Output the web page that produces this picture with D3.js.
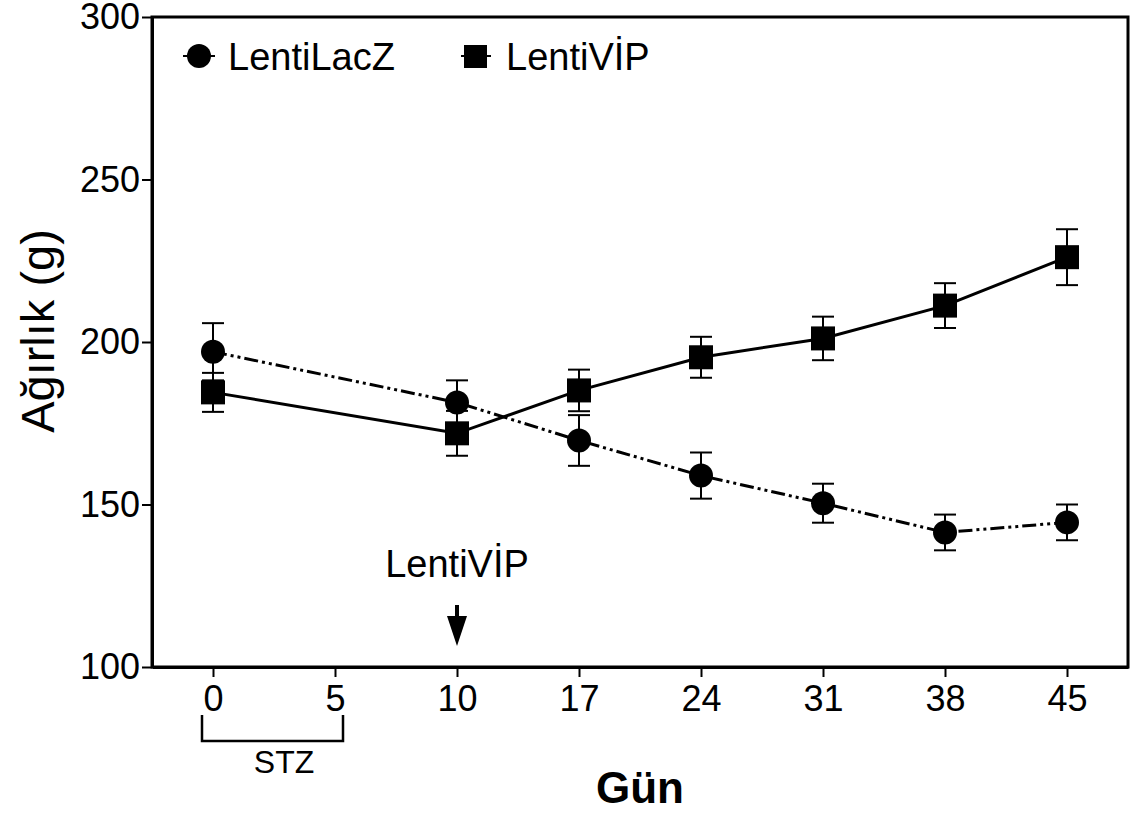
<!DOCTYPE html>
<html><head><meta charset="utf-8">
<script src="https://cdn.jsdelivr.net/npm/d3@7"></script>
<style>body{margin:0;background:#fff} text{font-family:"Liberation Sans",Arial,sans-serif;fill:#000}</style>
</head><body><svg id="c" width="1132" height="813"></svg>
<script>
const days = ["0","5","10","17","24","31","38","45"];
const seriesDays = ["0","10","17","24","31","38","45"];
const lacZMean = [197, 181.4, 169.7, 158.9, 150.4, 141.4, 144.5];
const lacZErr  = [8.8, 6.8, 7.8, 7.1, 6.0, 5.5, 5.5];
const vipMean  = [184.5, 171.9, 185.1, 195.3, 201.1, 211.2, 226.1];
const vipErr   = [6.0, 6.9, 6.4, 6.3, 6.7, 6.9, 8.6];
const yTicks   = [100, 150, 200, 250, 300];
const seriesNames = ["LentiLacZ", "LentiVİP"];

const svg = d3.select("#c");
const L = 152, R = 1128, T = 17, B = 667;
const x = d3.scalePoint().domain(days).range([L, R]).padding(0.5);
const y = d3.scaleLinear().domain([100, 300]).range([B, T]);

const lacZ = seriesDays.map((d,i)=>({d, m:lacZMean[i], e:lacZErr[i]}));
const vip  = seriesDays.map((d,i)=>({d, m:vipMean[i], e:vipErr[i]}));

// frame
svg.append("rect").attr("x",L).attr("y",T).attr("width",R-L).attr("height",B-T)
  .attr("fill","none").attr("stroke","#000").attr("stroke-width",3);

// y axis
const ya = svg.append("g").attr("transform",`translate(${L},0)`)
  .call(d3.axisLeft(y).tickValues(yTicks).tickSize(10).tickSizeOuter(0).tickPadding(2));
ya.select(".domain").attr("stroke-width",3);
ya.selectAll(".tick line").attr("stroke-width",2);
ya.selectAll(".tick text").attr("font-size",36).style("font-family","Liberation Sans, Arial, sans-serif");

// x axis
const xa = svg.append("g").attr("transform",`translate(0,${B})`)
  .call(d3.axisBottom(x).tickSize(10).tickSizeOuter(0).tickPadding(8));
xa.select(".domain").attr("stroke-width",3);
xa.selectAll(".tick line").attr("stroke-width",2);
xa.selectAll(".tick text").attr("font-size",36).style("font-family","Liberation Sans, Arial, sans-serif");

// lines
const line = d3.line().x(p=>x(p.d)).y(p=>y(p.m));
svg.append("path").datum(lacZ).attr("d",line).attr("fill","none").attr("stroke","#000")
  .attr("stroke-width",3).attr("stroke-dasharray","14,4,3,4,3,4");
svg.append("path").datum(vip).attr("d",line).attr("fill","none").attr("stroke","#000")
  .attr("stroke-width",3);

// error bars
function errBars(data){
  const g = svg.append("g").attr("stroke","#000").attr("stroke-width",2);
  data.forEach(p=>{
    const cx = x(p.d), y1 = y(p.m+p.e), y2 = y(p.m-p.e);
    g.append("line").attr("x1",cx).attr("x2",cx).attr("y1",y1).attr("y2",y2);
    g.append("line").attr("x1",cx-11).attr("x2",cx+11).attr("y1",y1).attr("y2",y1);
    g.append("line").attr("x1",cx-11).attr("x2",cx+11).attr("y1",y2).attr("y2",y2);
  });
}
errBars(lacZ); errBars(vip);

// markers
svg.append("g").selectAll("circle").data(lacZ).join("circle")
  .attr("cx",p=>x(p.d)).attr("cy",p=>y(p.m)).attr("r",12).attr("fill","#000");
svg.append("g").selectAll("rect").data(vip).join("rect")
  .attr("x",p=>x(p.d)-12).attr("y",p=>y(p.m)-12).attr("width",24).attr("height",24).attr("fill","#000");

// legend
const lg = svg.append("g");
lg.append("line").attr("x1",183).attr("x2",215).attr("y1",56).attr("y2",56).attr("stroke","#000").attr("stroke-width",2);
lg.append("circle").attr("cx",199).attr("cy",56).attr("r",12).attr("fill","#000");
lg.append("text").attr("x",228).attr("y",70).attr("font-size",38).text(seriesNames[0]);
lg.append("line").attr("x1",461).attr("x2",491).attr("y1",56).attr("y2",56).attr("stroke","#000").attr("stroke-width",2);
lg.append("rect").attr("x",464).attr("y",45).attr("width",23).attr("height",23).attr("fill","#000");
lg.append("text").attr("x",506).attr("y",70).attr("font-size",38).text(seriesNames[1]);

// annotation arrow
const ax = x("10");
svg.append("text").attr("x",ax).attr("y",577).attr("text-anchor","middle").attr("font-size",38).text("LentiVİP");
svg.append("line").attr("x1",ax).attr("x2",ax).attr("y1",605).attr("y2",620).attr("stroke","#000").attr("stroke-width",4);
svg.append("path").attr("d",`M${ax-10},616 L${ax+10},616 L${ax},646 Z`).attr("fill","#000");

// STZ bracket
svg.append("path").attr("d",`M${x("0")-11},715 V741 H${x("5")+8} V715`)
  .attr("fill","none").attr("stroke","#000").attr("stroke-width",2.5);
svg.append("text").attr("x",(x("0")+x("5"))/2+10).attr("y",773).attr("text-anchor","middle").attr("font-size",32).text("STZ");

// axis titles
svg.append("text").attr("x",(L+R)/2).attr("y",803).attr("text-anchor","middle")
  .attr("font-size",44).attr("font-weight","bold").text("Gün");
svg.append("text").attr("transform",`translate(54,331) rotate(-90)`).attr("text-anchor","middle")
  .attr("font-size",47).text("Ağırlık (g)");
</script></body></html>
